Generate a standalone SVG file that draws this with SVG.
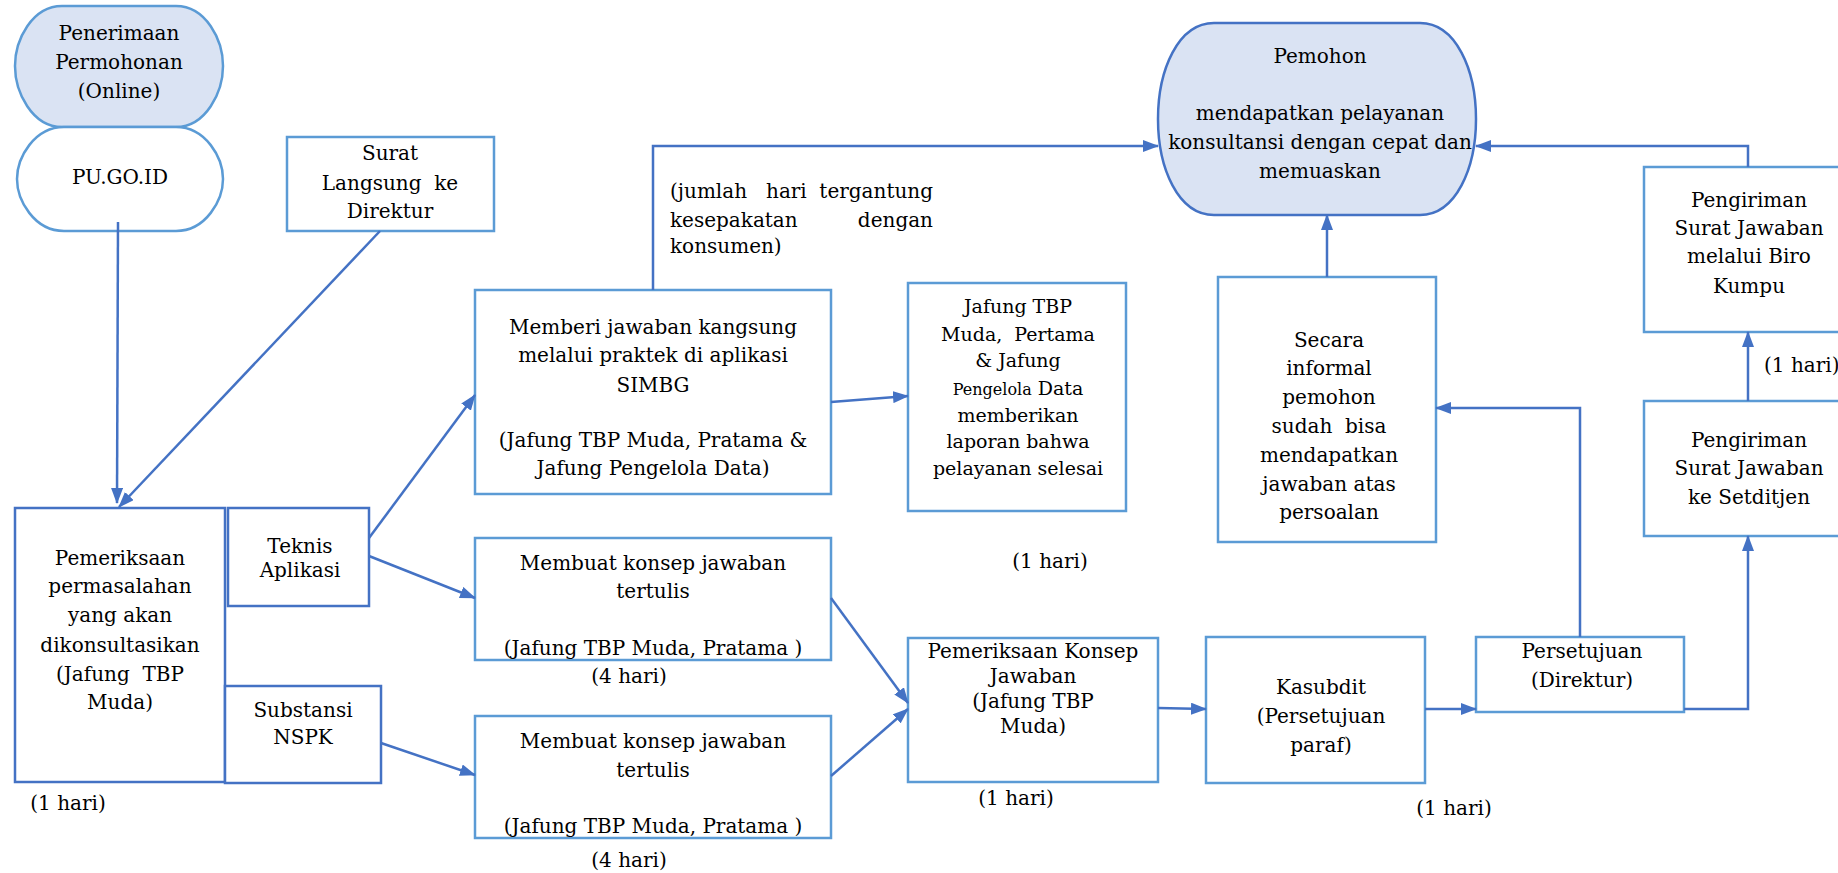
<svg xmlns="http://www.w3.org/2000/svg" width="1838" height="873" viewBox="0 0 1838 873">
<style>
  .t { font-family: "DejaVu Serif", "Liberation Serif", serif; font-size: 20px; fill: #000; text-anchor: middle; }
  .s { font-size: 19px; }
  .l { text-anchor: start; }
  .e { text-anchor: end; }
  .box { fill: #fff; stroke: #5b9bd5; stroke-width: 2.5; }
  .dbox { fill: #fff; stroke: #4472c4; stroke-width: 2.5; }
  .term { fill: #dae3f3; stroke: #5b9bd5; stroke-width: 2.5; }
  .conn { fill: none; stroke: #4472c4; stroke-width: 2.5; }
</style>
<defs>
  <marker id="arr" markerUnits="userSpaceOnUse" markerWidth="16" markerHeight="12" refX="15" refY="6" orient="auto" viewBox="0 0 16 12">
    <path d="M0,0 L16,6 L0,12 z" fill="#4472c4"/>
  </marker>
</defs>
<rect width="1838" height="873" fill="#fff"/>

<g id="penerimaan">
  <path class="term" d="M62,6 H176 C206,6 223,40 223,66 C223,92 206,127 176,127 H62 C32,127 15,92 15,66 C15,40 32,6 62,6 Z"/>
  <text class="t" x="119" y="40">Penerimaan</text>
  <text class="t" x="119" y="69">Permohonan</text>
  <text class="t" x="119" y="98">(Online)</text>
</g>
<g id="pugoid">
  <path class="box" d="M64,127 H176 C206,127 223,158 223,179 C223,200 206,231 176,231 H64 C34,231 17,200 17,179 C17,158 34,127 64,127 Z"/>
  <text class="t" x="120" y="184">PU.GO.ID</text>
</g>
<g id="surat">
  <rect class="box" x="287" y="137" width="207" height="94"/>
  <text class="t" x="390" y="160">Surat</text>
  <text class="t" x="390" y="190" xml:space="preserve">Langsung  ke</text>
  <text class="t" x="390" y="218">Direktur</text>
</g>
<g id="pemeriksaan">
  <rect class="dbox" x="15" y="508" width="210" height="274"/>
  <text class="t" x="120" y="565">Pemeriksaan</text>
  <text class="t" x="120" y="593">permasalahan</text>
  <text class="t" x="120" y="622">yang akan</text>
  <text class="t" x="120" y="652">dikonsultasikan</text>
  <text class="t" x="120" y="681" xml:space="preserve">(Jafung  TBP</text>
  <text class="t" x="120" y="709">Muda)</text>
  <text class="t" x="68" y="810">(1 hari)</text>
</g>
<g id="teknis">
  <rect class="dbox" x="228" y="508" width="141" height="98"/>
  <text class="t" x="300" y="553">Teknis</text>
  <text class="t" x="300" y="577">Aplikasi</text>
</g>
<g id="substansi">
  <rect class="dbox" x="225" y="686" width="156" height="97"/>
  <text class="t" x="303" y="717">Substansi</text>
  <text class="t" x="303" y="744">NSPK</text>
</g>
<g id="memberi">
  <rect class="box" x="475" y="290" width="356" height="204"/>
  <text class="t" x="653" y="334">Memberi jawaban kangsung</text>
  <text class="t" x="653" y="362">melalui praktek di aplikasi</text>
  <text class="t" x="653" y="392">SIMBG</text>
  <text class="t" x="653" y="447">(Jafung TBP Muda, Pratama &amp;</text>
  <text class="t" x="653" y="475">Jafung Pengelola Data)</text>
</g>
<g id="catatan">
  <text class="t l" x="670" y="198">(jumlah</text>
  <text class="t l" x="766" y="198">hari</text>
  <text class="t e" x="933" y="198">tergantung</text>
  <text class="t l" x="670" y="227">kesepakatan</text>
  <text class="t e" x="933" y="227">dengan</text>
  <text class="t l" x="670" y="253">konsumen)</text>
</g>
<g id="jafung">
  <rect class="box" x="908" y="283" width="218" height="228"/>
  <text class="t s" x="1018" y="313">Jafung TBP</text>
  <text class="t s" x="1018" y="341" xml:space="preserve">Muda,  Pertama</text>
  <text class="t s" x="1018" y="367">&amp; Jafung</text>
  <text class="t s" x="1018" y="395"><tspan font-size="16">Pengelola</tspan> Data</text>
  <text class="t s" x="1018" y="422">memberikan</text>
  <text class="t s" x="1018" y="448">laporan bahwa</text>
  <text class="t s" x="1018" y="475">pelayanan selesai</text>
  <text class="t" x="1050" y="568">(1 hari)</text>
</g>
<g id="membuat1">
  <rect class="box" x="475" y="538" width="356" height="122"/>
  <text class="t" x="653" y="570">Membuat konsep jawaban</text>
  <text class="t" x="653" y="598">tertulis</text>
  <text class="t" x="653" y="655">(Jafung TBP Muda, Pratama )</text>
  <text class="t" x="629" y="683">(4 hari)</text>
</g>
<g id="membuat2">
  <rect class="box" x="475" y="716" width="356" height="122"/>
  <text class="t" x="653" y="748">Membuat konsep jawaban</text>
  <text class="t" x="653" y="777">tertulis</text>
  <text class="t" x="653" y="833">(Jafung TBP Muda, Pratama )</text>
  <text class="t" x="629" y="867">(4 hari)</text>
</g>
<g id="pemeriksaan-konsep">
  <rect class="box" x="908" y="638" width="250" height="144"/>
  <text class="t" x="1033" y="658">Pemeriksaan Konsep</text>
  <text class="t" x="1033" y="683">Jawaban</text>
  <text class="t" x="1033" y="708">(Jafung TBP</text>
  <text class="t" x="1033" y="733">Muda)</text>
  <text class="t" x="1016" y="805">(1 hari)</text>
</g>
<g id="kasubdit">
  <rect class="box" x="1206" y="637" width="219" height="146"/>
  <text class="t" x="1321" y="694">Kasubdit</text>
  <text class="t" x="1321" y="723">(Persetujuan</text>
  <text class="t" x="1321" y="752">paraf)</text>
  <text class="t" x="1454" y="815">(1 hari)</text>
</g>
<g id="persetujuan">
  <rect class="box" x="1476" y="637" width="208" height="75"/>
  <text class="t" x="1582" y="658">Persetujuan</text>
  <text class="t" x="1582" y="687">(Direktur)</text>
</g>
<g id="secara">
  <rect class="box" x="1218" y="277" width="218" height="265"/>
  <text class="t" x="1329" y="347">Secara</text>
  <text class="t" x="1329" y="375">informal</text>
  <text class="t" x="1329" y="404">pemohon</text>
  <text class="t" x="1329" y="433" xml:space="preserve">sudah  bisa</text>
  <text class="t" x="1329" y="462">mendapatkan</text>
  <text class="t" x="1329" y="491">jawaban atas</text>
  <text class="t" x="1329" y="519">persoalan</text>
</g>
<g id="pemohon">
  <path d="M1214,23 H1420 C1456,23 1476,70 1476,119 C1476,168 1456,215 1420,215 H1214 C1178,215 1158,168 1158,119 C1158,70 1178,23 1214,23 Z" fill="#dae3f3" stroke="#4472c4" stroke-width="2.5"/>
  <text class="t" x="1320" y="63">Pemohon</text>
  <text class="t" x="1320" y="120">mendapatkan pelayanan</text>
  <text class="t" x="1320" y="149">konsultansi dengan cepat dan</text>
  <text class="t" x="1320" y="178">memuaskan</text>
</g>
<g id="pengiriman-biro">
  <rect class="box" x="1644" y="167" width="210" height="165"/>
  <text class="t" x="1749" y="207">Pengiriman</text>
  <text class="t" x="1749" y="235">Surat Jawaban</text>
  <text class="t" x="1749" y="263">melalui Biro</text>
  <text class="t" x="1749" y="293">Kumpu</text>
  <text class="t l" x="1764" y="372">(1 hari)</text>
</g>
<g id="pengiriman-setditjen">
  <rect class="box" x="1644" y="401" width="210" height="135"/>
  <text class="t" x="1749" y="447">Pengiriman</text>
  <text class="t" x="1749" y="475">Surat Jawaban</text>
  <text class="t" x="1749" y="504">ke Setditjen</text>
</g>

<g id="connectors">
  <path class="conn" d="M118,222 L117,503" marker-end="url(#arr)"/>
  <path class="conn" d="M380,231 L119,507" marker-end="url(#arr)"/>
  <path class="conn" d="M369,538 L475,395" marker-end="url(#arr)"/>
  <path class="conn" d="M369,556 L475,598" marker-end="url(#arr)"/>
  <path class="conn" d="M381,743 L475,775" marker-end="url(#arr)"/>
  <path class="conn" d="M653,290 V146 H1158" marker-end="url(#arr)"/>
  <path class="conn" d="M831,402 L908,396" marker-end="url(#arr)"/>
  <path class="conn" d="M831,598 L908,703" marker-end="url(#arr)"/>
  <path class="conn" d="M831,776 L908,709" marker-end="url(#arr)"/>
  <path class="conn" d="M1158,708 L1206,709" marker-end="url(#arr)"/>
  <path class="conn" d="M1425,709 L1476,709" stroke-width="3.5" marker-end="url(#arr)"/>
  <path class="conn" d="M1580,637 V408 H1436" marker-end="url(#arr)"/>
  <path class="conn" d="M1684,709 H1748 V536" stroke-width="3" marker-end="url(#arr)"/>
  <path class="conn" d="M1748,401 V332" marker-end="url(#arr)"/>
  <path class="conn" d="M1748,167 V146 H1476" marker-end="url(#arr)"/>
  <path class="conn" d="M1327,277 V215" stroke-width="3" marker-end="url(#arr)"/>
</g>
</svg>
